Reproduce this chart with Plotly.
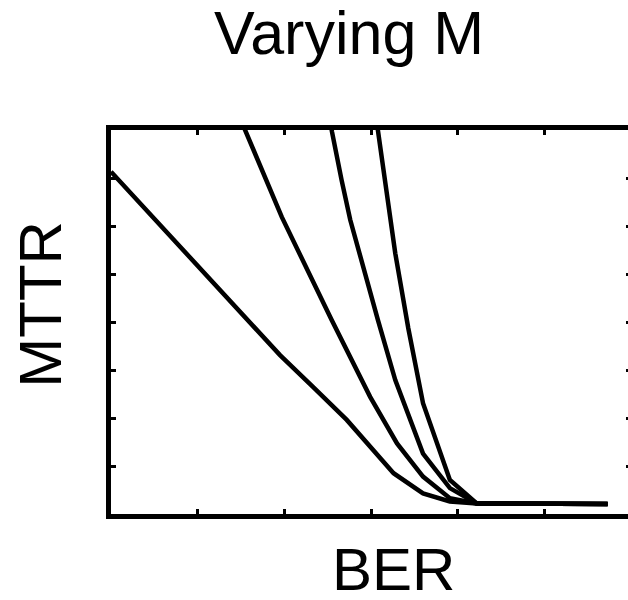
import plotly.graph_objects as go

# Data (x in BER axis units, y in MTTR axis units)
x1 = [0.0, 1.0, 1.68, 1.95, 2.33, 2.72, 3.26, 3.60, 3.91, 4.22, 5.73]
y1 = [7.13, 5.17, 3.83, 3.31, 2.65, 1.96, 0.85, 0.43, 0.26, 0.22, 0.21]

x2 = [1.43, 1.546, 1.97, 2.546, 2.99, 3.30, 3.60, 3.91, 4.22, 5.73]
y2 = [8.5, 8.0, 6.19, 4.04, 2.44, 1.47, 0.78, 0.33, 0.22, 0.21]

x3 = [2.50, 2.55, 2.66, 2.76, 3.08, 3.28, 3.60, 3.91, 4.22, 5.73]
y3 = [8.5, 7.96, 6.96, 6.13, 4.04, 2.79, 1.26, 0.54, 0.22, 0.21]

x4 = [3.04, 3.08, 3.20, 3.28, 3.43, 3.60, 3.91, 4.22, 5.73]
y4 = [8.5, 7.96, 6.47, 5.43, 3.87, 2.31, 0.71, 0.22, 0.21]

title_text = "Varying M"
x_label = "BER"
y_label = "MTTR"

FONT = "Liberation Sans, Arial, sans-serif"
LW = 4.5

fig = go.Figure()
for i, (xs, ys) in enumerate([(x1, y1), (x2, y2), (x3, y3), (x4, y4)]):
    fig.add_trace(go.Scatter(
        x=xs, y=ys, mode="lines",
        line=dict(color="black", width=LW),
        showlegend=False, hoverinfo="skip",
        yaxis="y2" if i == 3 else "y",
    ))

axis_common = dict(showgrid=False, zeroline=False, showticklabels=False)

fig.update_layout(
    width=628, height=600,
    margin=dict(l=111, r=0, t=130, b=86),
    paper_bgcolor="white", plot_bgcolor="white",
    font=dict(family=FONT, color="black"),
    xaxis=dict(range=[0, 5.965], tick0=0, dtick=1, ticks="inside", ticklen=5,
               tickwidth=3, tickcolor="black", showline=True, linecolor="black",
               linewidth=5, mirror="ticks", **axis_common),
    yaxis=dict(range=[0, 8], tick0=0, dtick=1, ticks="inside", ticklen=5,
               tickwidth=3, tickcolor="black", showline=True, linecolor="black",
               linewidth=5, mirror=False, **axis_common),
    yaxis2=dict(range=[0, 8], tick0=0, dtick=1, ticks="inside", ticklen=2,
                tickwidth=3, tickcolor="black", showline=False, overlaying="y",
                side="right", anchor="x", **axis_common),
    annotations=[
        dict(text=title_text, xref="paper", yref="paper", x=0.4603, y=1.2515,
             xanchor="center", yanchor="middle", showarrow=False, borderpad=0,
             font=dict(size=61, family=FONT, color="black")),
        dict(text=x_label, xref="paper", yref="paper", x=0.546, y=-0.1440,
             xanchor="center", yanchor="middle", showarrow=False, borderpad=0,
             font=dict(size=60, family=FONT, color="black")),
        dict(text=y_label, xref="paper", yref="paper", x=-0.1358, y=0.547,
             xanchor="center", yanchor="middle", showarrow=False, textangle=-90,
             borderpad=0, font=dict(size=60, family=FONT, color="black")),
    ],
)

fig.write_html("out.html")
